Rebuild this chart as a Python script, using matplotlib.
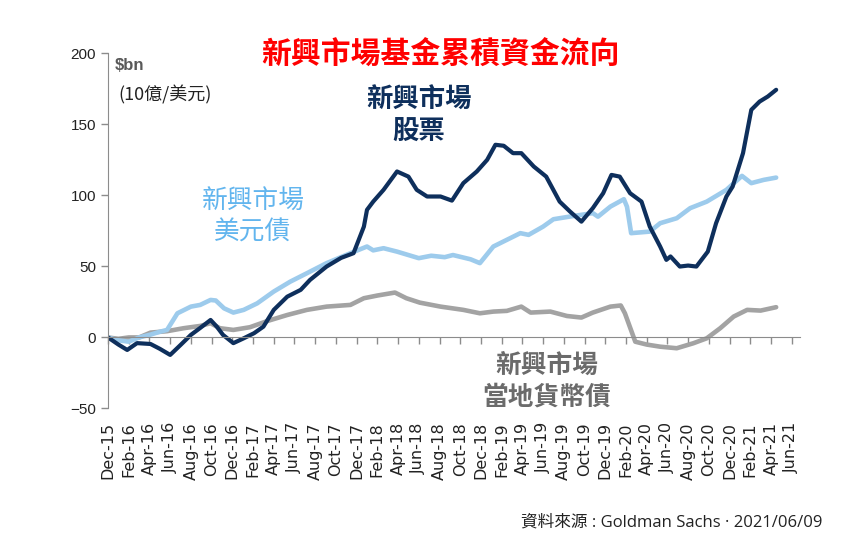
import matplotlib
matplotlib.use('Agg')
import matplotlib.pyplot as plt

# months since Dec-15
eq_m = [0, 1.0, 1.85, 2.8, 4.1, 5.0, 6.0, 7.0, 8.0, 8.9, 9.9, 10.5, 11.1, 12.1, 13.1, 14.1, 15.0, 16.0,
        17.3, 18.6, 19.5, 21.1, 22.5, 23.7, 24.7, 25.0, 25.6, 26.6, 27.9, 29.0, 29.8, 30.8, 32.1, 33.2,
        34.3, 35.6, 36.6, 37.4, 38.2, 39.1, 39.9, 41.1, 42.3, 43.6, 44.6, 45.7, 46.8, 47.8, 48.6, 49.4,
        50.4, 51.5, 52.3, 53.3, 53.9, 54.3, 55.2, 56.0, 56.8, 57.9, 58.7, 59.7, 60.3, 61.3, 62.1, 62.9,
        63.7, 64.5]
eq_v = [0, -5, -8.8, -4, -4.6, -8, -12.3, -5.3, 1.8, 6.7, 12.3, 7.6, 1.8, -4, -0.6, 3, 7.6, 19.4,
        28.7, 33.5, 40.5, 49.9, 56, 59.3, 78, 89.8, 95.6, 103.9, 116.8, 113.2, 103.9, 99.2, 99.2, 96.3,
        108.6, 116.8, 125, 135.6, 134.9, 129.7, 129.7, 120.3, 113.2, 95.6, 88.6, 81.5, 91, 101.5, 114.4, 113.2,
        101.5, 95.6, 78, 64, 54.6, 57, 49.9, 50.6, 49.9, 60.4, 80.4, 99.2, 106.2, 129.7, 160.2, 166,
        169.6, 174.3]

usd_m = [0, 1.0, 2.0, 3.0, 4.1, 5.0, 5.7, 6.7, 8.0, 8.9, 9.9, 10.4, 11.2, 12.1, 13.1, 14.4, 16.0, 17.6,
         19.2, 21.1, 23.4, 25.0, 25.6, 26.6, 27.9, 30.0, 31.2, 32.5, 33.3, 35.0, 35.9, 37.2, 38.5, 39.8,
         40.6, 42.0, 43.0, 44.6, 45.7, 46.8, 47.3, 48.5, 49.8, 50.1, 50.5, 52.3, 53.3, 54.9, 56.2, 57.8,
         59.7, 61.2, 62.1, 63.3, 64.5]
usd_v = [0, -2, -3, 0, 2, 4, 5.3, 17, 21.7, 22.9, 26.4, 26, 20.5, 17.5, 19.4, 24, 32.3, 39.3,
         45.2, 52.3, 59.3, 64, 61.3, 62.8, 60.4, 55.8, 57.5, 56.5, 58, 55, 52.3, 64, 68.7, 73.4,
         72.2, 78, 83.2, 85.1, 86.3, 87.5, 85, 92.1, 97.3, 92, 73.4, 74.5, 80.4, 83.9, 91, 95.6,
         103.9, 113.7, 108.6, 110.9, 112.5]

loc_m = [0, 1.0, 2.0, 3.0, 4.1, 5.7, 7.3, 8.9, 9.9, 10.8, 12.1, 13.7, 15.4, 17.3, 19.2, 21.1, 23.4, 24.7,
         26.0, 27.7, 28.8, 30.1, 32.1, 34.3, 35.9, 37.2, 38.5, 39.9, 40.8, 42.7, 44.3, 45.7, 46.8, 48.5,
         49.5, 49.9, 50.9, 52.0, 53.3, 54.9, 56.5, 57.8, 59.1, 60.4, 61.7, 63.0, 64.5]
loc_v = [0, -1, 0, 0, 3.4, 4.4, 6.5, 8.1, 10, 6.5, 5.3, 7.2, 11.6, 15.8, 19.4, 21.7, 22.9, 27.6,
         29.5, 31.6, 27.6, 24.5, 21.7, 19.4, 17, 18.2, 18.7, 21.7, 17.5, 18.2, 15.1, 14, 17.5, 21.7,
         22.5, 17, -3, -5, -6.5, -7.6, -4.1, -0.6, 6.5, 14.7, 19.4, 18.9, 21.3]

tick_labels = ['Dec-15', 'Feb-16', 'Apr-16', 'Jun-16', 'Aug-16', 'Oct-16', 'Dec-16', 'Feb-17', 'Apr-17',
               'Jun-17', 'Aug-17', 'Oct-17', 'Dec-17', 'Feb-18', 'Apr-18', 'Jun-18', 'Aug-18', 'Oct-18',
               'Dec-18', 'Feb-19', 'Apr-19', 'Jun-19', 'Aug-19', 'Oct-19', 'Dec-19', 'Feb-20', 'Apr-20',
               'Jun-20', 'Aug-20', 'Oct-20', 'Dec-20', 'Feb-21', 'Apr-21', 'Jun-21']
tick_pos = [2 * i for i in range(len(tick_labels))]
y_ticks = [-50, 0, 50, 100, 150, 200]

NAVY = '#0e2f5c'
LBLUE = '#9dcbec'
GRAY = '#a3a3a3'
CJK = ['Noto Sans CJK TC', 'DejaVu Sans']

fig = plt.figure(figsize=(8.67, 5.36), dpi=100)
ax = fig.add_axes([0.1246, 0.2379, 0.7981, 0.6627])

ax.plot(loc_m, loc_v, color=GRAY, linewidth=3.3, solid_capstyle='round')
ax.plot(usd_m, usd_v, color=LBLUE, linewidth=3.3, solid_capstyle='round')
ax.plot(eq_m, eq_v, color=NAVY, linewidth=3.0, solid_capstyle='round')

ax.set_xlim(0, 66.8)
ax.set_ylim(-50, 200)
ax.set_yticks(y_ticks)
ax.set_xticks(tick_pos)
ax.set_xticklabels(tick_labels)
for lab in ax.get_xticklabels() + ax.get_yticklabels():
    lab.set_family('Liberation Sans')
ax.tick_params(axis='y', labelsize=11, colors='#8c8c8c', labelcolor='#222222', length=5, width=1)
ax.tick_params(axis='x', labelsize=11.5, labelrotation=90, colors='#8c8c8c', labelcolor='#222222',
               length=5, width=1, pad=56)

for s in ['top', 'right']:
    ax.spines[s].set_visible(False)
ax.spines['left'].set_color('#8c8c8c')
ax.spines['bottom'].set_color('#8c8c8c')
ax.spines['bottom'].set_position(('data', 0))

fig.text(0.5075, 0.897, '新興市場基金累積資金流向', color='#ff0000', fontsize=21.5, fontweight='bold',
         family=CJK, ha='center', va='center')
fig.text(0.1326, 0.877, '$bn', color='#595959', fontsize=12, fontweight='bold',
         family='Liberation Sans', ha='left', va='center')
fig.text(0.136, 0.823, '(10億/美元)', color='#222222', fontsize=13, family=CJK, ha='left', va='center')

fig.text(419 / 867, 1 - 100 / 536, '新興市場', color=NAVY, fontsize=19, fontweight='bold',
         family=CJK, ha='center', va='center')
fig.text(419 / 867, 1 - 132 / 536, '股票', color=NAVY, fontsize=19, fontweight='bold',
         family=CJK, ha='center', va='center')
fig.text(253 / 867, 1 - 202 / 536, '新興市場', color='#62b5ee', fontsize=18.5,
         family=CJK, ha='center', va='center')
fig.text(253 / 867, 1 - 233 / 536, '美元債', color='#62b5ee', fontsize=18.5,
         family=CJK, ha='center', va='center')
fig.text(547 / 867, 1 - 365 / 536, '新興市場', color='#6b6b6b', fontsize=18.5, fontweight='bold',
         family=CJK, ha='center', va='center')
fig.text(547 / 867, 1 - 397 / 536, '當地貨幣債', color='#6b6b6b', fontsize=18.5, fontweight='bold',
         family=CJK, ha='center', va='center')

fig.text(822 / 867, 1 - 522 / 536, '資料來源 : Goldman Sachs · 2021/06/09', color='#222222',
         fontsize=12, family=['Open Sans', 'Noto Sans CJK TC'], ha='right', va='center')

fig.savefig('out.png', dpi=100)
